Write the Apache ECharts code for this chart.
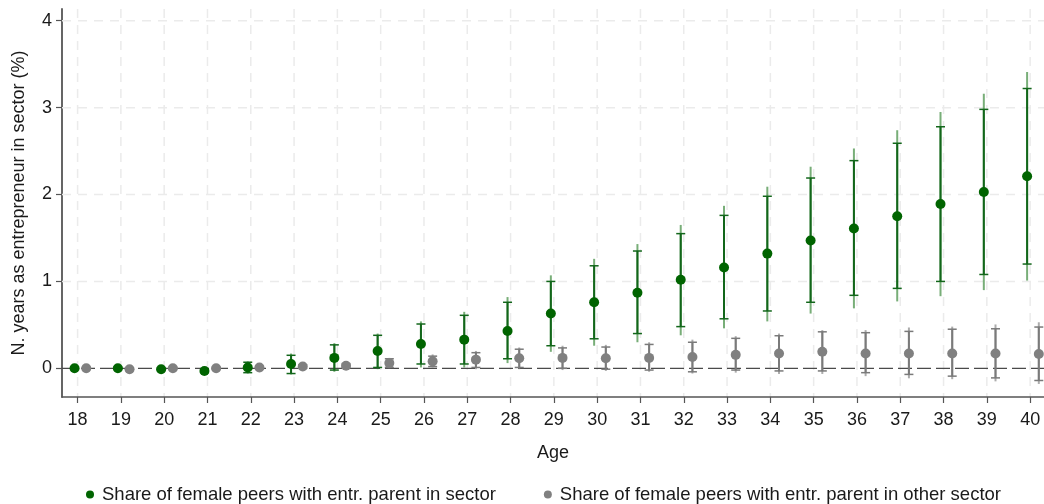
<!DOCTYPE html>
<html>
<head>
<meta charset="utf-8">
<title>Years as entrepreneur in sector by age</title>
<script src="https://cdn.jsdelivr.net/npm/echarts@6/dist/echarts.min.js"></script>
<style>
  html, body { margin: 0; padding: 0; background: #ffffff; }
  #chart { width: 1044px; height: 504px; }
</style>
</head>
<body>
<div id="chart"></div>
<script>
// Age categories and axis ticks
const ages = [18, 19, 20, 21, 22, 23, 24, 25, 26, 27, 28, 29, 30, 31, 32, 33, 34, 35, 36, 37, 38, 39, 40];
const yTicks = [0, 1, 2, 3, 4];

// Share of female peers with entr. parent in sector: estimate, inner CI (capped), outer CI
const sameVal   = [0.00, 0.00, -0.01, -0.03, 0.01, 0.05, 0.12, 0.20, 0.28, 0.33, 0.43, 0.63, 0.76, 0.87, 1.02, 1.16, 1.32, 1.47, 1.61, 1.75, 1.89, 2.03, 2.21];
const sameInLo  = [-0.01, -0.01, -0.02, -0.05, -0.05, -0.06, -0.02, 0.01, 0.05, 0.05, 0.11, 0.26, 0.34, 0.40, 0.48, 0.57, 0.66, 0.76, 0.84, 0.92, 1.00, 1.08, 1.20];
const sameInHi  = [0.01, 0.01, 0.00, -0.01, 0.07, 0.15, 0.27, 0.38, 0.51, 0.61, 0.76, 1.00, 1.18, 1.35, 1.55, 1.76, 1.98, 2.19, 2.39, 2.59, 2.78, 2.98, 3.22];
const sameOutLo = [-0.01, -0.01, -0.02, -0.06, -0.06, -0.07, -0.04, -0.01, 0.01, 0.01, 0.06, 0.19, 0.26, 0.30, 0.38, 0.46, 0.54, 0.63, 0.69, 0.77, 0.83, 0.90, 1.01];
const sameOutHi = [0.01, 0.01, 0.00, 0.00, 0.08, 0.17, 0.29, 0.40, 0.54, 0.65, 0.82, 1.07, 1.26, 1.43, 1.65, 1.87, 2.09, 2.32, 2.53, 2.74, 2.95, 3.16, 3.41];

// Share of female peers with entr. parent in other sector
const otherVal   = [0.00, -0.01, 0.00, 0.00, 0.01, 0.02, 0.03, 0.06, 0.08, 0.10, 0.115, 0.12, 0.115, 0.12, 0.13, 0.155, 0.17, 0.19, 0.17, 0.17, 0.17, 0.17, 0.165];
const otherInLo  = [-0.005, -0.015, -0.01, -0.01, 0.00, 0.00, 0.01, 0.01, 0.02, 0.01, 0.01, 0.00, -0.01, -0.02, -0.04, -0.02, -0.03, -0.03, -0.05, -0.07, -0.09, -0.11, -0.14];
const otherInHi  = [0.005, -0.005, 0.01, 0.01, 0.02, 0.04, 0.05, 0.11, 0.14, 0.18, 0.22, 0.235, 0.245, 0.275, 0.30, 0.345, 0.375, 0.42, 0.41, 0.425, 0.45, 0.455, 0.475];
const otherOutLo = [-0.01, -0.02, -0.015, -0.015, -0.005, -0.005, 0.00, 0.00, 0.01, -0.01, -0.01, -0.02, -0.03, -0.04, -0.06, -0.05, -0.065, -0.065, -0.09, -0.115, -0.125, -0.15, -0.18];
const otherOutHi = [0.01, 0.00, 0.015, 0.015, 0.025, 0.05, 0.06, 0.12, 0.16, 0.20, 0.24, 0.26, 0.27, 0.30, 0.33, 0.37, 0.40, 0.44, 0.44, 0.47, 0.48, 0.505, 0.53];

const seriesNames = [
  'Share of female peers with entr. parent in sector',
  'Share of female peers with entr. parent in other sector'
];

const FONT = "'Liberation Sans', Arial, sans-serif";
const TEXT = '#1a1a1a';
const GREEN = '#006400';
const GRAY = '#808080';
const SHIFT_SAME = -0.07;
const SHIFT_OTHER = 0.2;

function points(vals, shift) {
  return ages.map((a, i) => [a + shift, vals[i]]);
}
function bars(shift, oLo, oHi, iLo, iHi) {
  return ages.map((a, i) => [a + shift, oLo[i], oHi[i], iLo[i], iHi[i]]);
}

function errorBar(outerColor, innerColor) {
  return function (params, api) {
    const x = api.value(0);
    const oLo = api.coord([x, api.value(1)]);
    const oHi = api.coord([x, api.value(2)]);
    const iLo = api.coord([x, api.value(3)]);
    const iHi = api.coord([x, api.value(4)]);
    const cap = 4.5;
    const seg = (x1, y1, x2, y2, color, w) => ({
      type: 'line',
      shape: { x1: x1, y1: y1, x2: x2, y2: y2 },
      style: { stroke: color, lineWidth: w }
    });
    return {
      type: 'group',
      children: [
        seg(oLo[0], oLo[1], oHi[0], oHi[1], outerColor, 2),
        seg(iLo[0], iLo[1], iHi[0], iHi[1], innerColor, 2),
        seg(iLo[0] - cap, iLo[1], iLo[0] + cap, iLo[1], innerColor, 1.5),
        seg(iHi[0] - cap, iHi[1], iHi[0] + cap, iHi[1], innerColor, 1.5)
      ]
    };
  };
}

const chart = echarts.init(document.getElementById('chart'), null, { renderer: 'canvas' });

chart.setOption({
  animation: false,
  backgroundColor: '#ffffff',
  grid: { left: 62, right: 0, top: 9, bottom: 107, containLabel: false },
  legend: {
    data: [
      { name: seriesNames[0], itemStyle: { color: GREEN } },
      { name: seriesNames[1], itemStyle: { color: GRAY } }
    ],
    icon: 'circle',
    itemWidth: 14,
    itemHeight: 8,
    itemGap: 48,
    left: 81,
    top: 480,
    textStyle: { fontFamily: FONT, fontSize: 18.5, color: TEXT }
  },
  xAxis: {
    type: 'value',
    min: 17.64,
    max: 40.32,
    name: 'Age',
    nameLocation: 'middle',
    nameGap: 47,
    nameTextStyle: { fontFamily: FONT, fontSize: 18, color: TEXT },
    axisLine: { show: true, onZero: false, lineStyle: { color: '#555555', width: 1.5 } },
    axisTick: { show: true, length: 6, customValues: ages, lineStyle: { color: '#555555', width: 1.2 } },
    axisLabel: { customValues: ages, margin: 14, fontFamily: FONT, fontSize: 18, color: TEXT },
    splitLine: { show: false }
  },
  yAxis: {
    type: 'value',
    min: -0.33,
    max: 4.135,
    name: 'N. years as entrepreneur in sector (%)',
    nameLocation: 'middle',
    nameGap: 34,
    nameRotate: 90,
    nameTextStyle: { fontFamily: FONT, fontSize: 18, color: TEXT },
    axisLine: { show: true, onZero: false, lineStyle: { color: '#555555', width: 1.8 } },
    axisTick: { show: true, length: 6, customValues: yTicks, lineStyle: { color: '#555555', width: 1.2 } },
    axisLabel: { customValues: yTicks, margin: 10, fontFamily: FONT, fontSize: 18, color: TEXT },
    splitLine: { show: false }
  },
  series: [
    {
      // vertical grid lines at each age
      type: 'custom',
      silent: true,
      z: 0,
      data: ages.map(a => [a, 0]),
      encode: { x: 0, y: 1 },
      renderItem: function (params, api) {
        const cs = params.coordSys;
        const px = api.coord([api.value(0), 0])[0];
        return {
          type: 'line',
          shape: { x1: px, y1: cs.y, x2: px, y2: cs.y + cs.height },
          style: { stroke: '#ebebeb', lineWidth: 1.5, lineDash: [9, 7] }
        };
      }
    },
    {
      // horizontal grid lines; the zero line is a darker reference line
      type: 'custom',
      silent: true,
      z: 1,
      data: yTicks.map(v => [ages[0], v]),
      encode: { x: 0, y: 1 },
      renderItem: function (params, api) {
        const cs = params.coordSys;
        const v = api.value(1);
        const py = api.coord([ages[0], v])[1];
        const isZero = v === 0;
        return {
          type: 'line',
          z2: isZero ? 5 : 0,
          shape: { x1: cs.x, y1: py, x2: cs.x + cs.width, y2: py },
          style: isZero
            ? { stroke: '#4a4a4a', lineWidth: 1.3, lineDash: [14, 5] }
            : { stroke: '#ebebeb', lineWidth: 1.5, lineDash: [9, 7] }
        };
      }
    },
    {
      type: 'custom',
      silent: true,
      z: 2,
      data: bars(SHIFT_OTHER, otherOutLo, otherOutHi, otherInLo, otherInHi),
      encode: { x: 0, y: [1, 2, 3, 4] },
      renderItem: errorBar('rgba(128,128,128,0.65)', '#7a7a7a')
    },
    {
      type: 'custom',
      silent: true,
      z: 2,
      data: bars(SHIFT_SAME, sameOutLo, sameOutHi, sameInLo, sameInHi),
      encode: { x: 0, y: [1, 2, 3, 4] },
      renderItem: errorBar('rgba(30,120,30,0.6)', '#12661a')
    },
    {
      name: seriesNames[0],
      type: 'scatter',
      z: 3,
      symbol: 'circle',
      symbolSize: 10,
      itemStyle: { color: GREEN, opacity: 1 },
      data: points(sameVal, SHIFT_SAME)
    },
    {
      name: seriesNames[1],
      type: 'scatter',
      z: 3,
      symbol: 'circle',
      symbolSize: 10,
      itemStyle: { color: GRAY, opacity: 1 },
      data: points(otherVal, SHIFT_OTHER)
    }
  ]
});
</script>
</body>
</html>
